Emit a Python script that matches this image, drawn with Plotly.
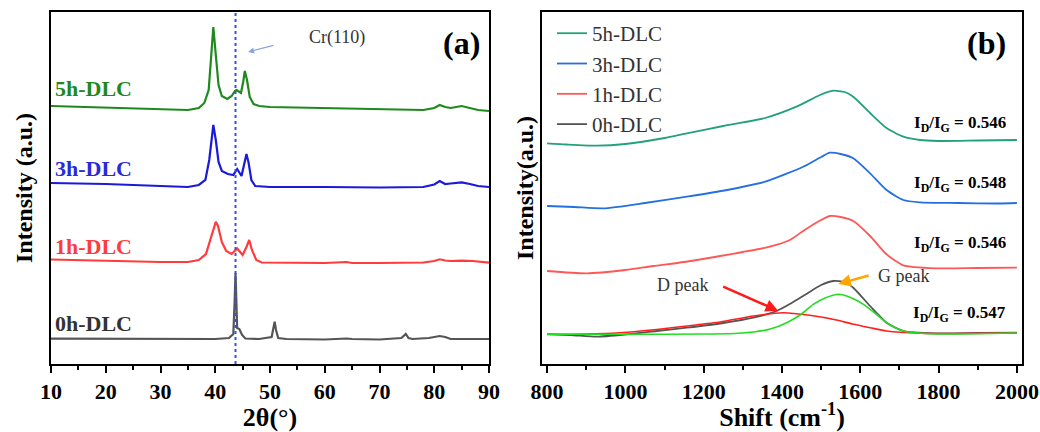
import plotly.graph_objects as go

# ---------------- Panel (a): XRD (2θ in degrees, stacked intensity in a.u.) ----------------
xrd_5h_x = [10, 20, 30, 35, 37, 38, 38.8, 39.3, 39.65, 40.1, 40.6, 41.2, 42.2, 43.0, 43.6, 43.9, 44.3, 44.7,
            45.1, 45.4, 45.8, 46.3, 47, 48, 50, 60, 70, 78, 80, 81, 82, 83, 85, 86.5, 88, 90]
xrd_5h_y = [258, 256.5, 255, 254, 256, 261, 274, 309, 337, 309, 279, 268, 265, 268, 273, 274, 272, 271,
            282, 293, 284, 267, 260, 258, 257, 256, 255, 254, 256, 259, 257, 256, 258, 256, 254, 253]

xrd_3h_x = [10, 20, 30, 35, 37, 38.2, 38.9, 39.3, 39.65, 40.1, 40.6, 41.2, 42.3, 43.3, 44.0, 44.8, 45.3,
            45.7, 46.1, 46.6, 47.3, 50, 60, 70, 78, 80, 81, 82, 83, 84, 85, 86.5, 88, 90]
xrd_3h_y = [181, 180, 178, 177, 179, 184, 204, 226, 239, 224, 202, 193, 190, 189, 195, 188, 199,
            210, 201, 184, 178, 177, 177, 176.5, 177, 179.5, 183, 180, 180.5, 181, 181.7, 180, 178, 177]

xrd_1h_x = [10, 20, 30, 35, 37, 38.3, 39.2, 39.8, 40.1, 40.5, 41.2, 42.0, 43.0, 44.0, 45.0, 45.7, 46.2,
            46.7, 47.5, 48.5, 55, 60, 64, 65, 70, 78, 80, 81, 82, 83, 85, 87, 90]
xrd_1h_y = [104.5, 103, 102, 102, 104, 110, 126, 139, 142.3, 138, 122, 113, 110, 115.5, 109, 117, 124,
            114, 104, 101.5, 101, 101, 102, 101, 101, 101.5, 103, 104.7, 103.5, 103, 103.3, 103, 101.3]

xrd_0h_x = [10, 20, 30, 40, 42.5, 43.3, 43.55, 43.7, 43.85, 44.0, 44.4, 44.9, 45.5, 48, 50.3, 50.6, 50.85,
            51.1, 51.5, 53, 60, 64, 65, 70, 74, 74.8, 75.3, 76, 79, 81, 82, 83, 90]
xrd_0h_y = [25.3, 25, 25, 25, 26, 30, 64, 91, 64, 36, 35, 29, 25.5, 25, 27, 34, 42.3,
            34, 26, 25, 24.5, 25.5, 25, 24.5, 26, 30, 26, 25, 26, 28, 27, 25, 25]

cr110_position = [43.7]

# ---------------- Panel (b): Raman (shift in cm-1, stacked intensity in a.u.) ----------------
raman_5h_x = [800, 850, 927, 1000, 1100, 1157, 1250, 1357, 1437, 1497, 1531, 1560, 1582, 1625, 1667, 1710,
              1752, 1800, 1900, 2000]
raman_5h_y = [220.7, 219.5, 218.3, 220, 226, 230.7, 238, 246, 257.3, 269, 273.3, 272, 267.3, 251, 236, 227.3,
              224, 223, 223.5, 224]

raman_3h_x = [800, 870, 944, 1050, 1157, 1260, 1357, 1454, 1500, 1522, 1550, 1582, 1625, 1667, 1710, 1752,
              1850, 1950, 2000]
raman_3h_y = [158, 157, 155.7, 161, 167.3, 174, 182.3, 197.3, 207, 211.3, 210, 205.7, 190.7, 174, 164, 161.7,
              161, 160.5, 161]

raman_1h_x = [800, 901, 1000, 1071, 1150, 1242, 1300, 1369, 1420, 1454, 1495, 1522, 1550, 1582, 1625, 1667,
              1710, 1795, 1900, 2000]
raman_1h_y = [93, 90.7, 94, 98, 102, 108, 112, 117.3, 124, 133, 143, 148, 147, 143, 128, 109.7,
              98.7, 95.7, 96, 96.3]

raman_0h_x = [800, 860, 927, 1000, 1080, 1157, 1250, 1327, 1386, 1420, 1454, 1500, 1531, 1560, 1582, 1625,
              1667, 1710, 1795, 1900, 2000]
raman_0h_y = [29.7, 29, 27.3, 29.5, 33, 36.3, 41, 46.3, 53, 60, 68, 79, 83, 82, 76.3, 58,
              41.3, 33, 30.7, 31, 31.3]

g_fit_x = [800, 1000, 1200, 1280, 1327, 1370, 1412, 1450, 1480, 1510, 1544, 1575, 1608, 1640, 1667, 1690,
           1710, 1750, 1795, 2000]
g_fit_y = [29.7, 29.7, 30, 30.5, 32, 35, 41.3, 50, 59.7, 66, 69.7, 66.5, 59.7, 50, 41.3, 36,
           33, 31, 30, 31]

d_fit_x = [800, 900, 986, 1080, 1157, 1242, 1327, 1403, 1471, 1539, 1580, 1625, 1667, 1752, 1850, 2000]
d_fit_y = [29.7, 30, 31.3, 34.5, 38, 42, 48, 51.3, 48.7, 44, 40, 36.3, 33, 30.7, 30.5, 31]

samples = ["5h-DLC", "3h-DLC", "1h-DLC", "0h-DLC"]
id_ig_ratios = ["0.546", "0.548", "0.546", "0.547"]

SERIF = "Liberation Serif"
xrd_colors = ["#1e8a1e", "#1a1ad8", "#ff3b3b", "#555555"]
xrd_label_colors = ["#1e8a1e", "#2a2ad8", "#ff3b3b", "#333333"]
raman_colors = ["#23a07c", "#2470e0", "#ff5757", "#555555"]

fig = go.Figure()

xrd_x = [xrd_5h_x, xrd_3h_x, xrd_1h_x, xrd_0h_x]
xrd_y = [xrd_5h_y, xrd_3h_y, xrd_1h_y, xrd_0h_y]
for name, xs, ys, c in zip(samples, xrd_x, xrd_y, xrd_colors):
    fig.add_trace(go.Scatter(x=xs, y=ys, mode="lines", name=name, showlegend=False,
                             line=dict(color=c, width=2.2), xaxis="x", yaxis="y"))

raman_x = [raman_5h_x, raman_3h_x, raman_1h_x, raman_0h_x]
raman_y = [raman_5h_y, raman_3h_y, raman_1h_y, raman_0h_y]
for name, xs, ys, c in zip(samples, raman_x, raman_y, raman_colors):
    fig.add_trace(go.Scatter(x=xs, y=ys, mode="lines", name=name, showlegend=True,
                             line=dict(color=c, width=1.8, shape="spline", smoothing=0.6),
                             xaxis="x2", yaxis="y2"))

fig.add_trace(go.Scatter(x=d_fit_x, y=d_fit_y, mode="lines", name="D fit", showlegend=False,
                         line=dict(color="#ff2020", width=1.6, shape="spline", smoothing=0.6),
                         xaxis="x2", yaxis="y2"))
fig.add_trace(go.Scatter(x=g_fit_x, y=g_fit_y, mode="lines", name="G fit", showlegend=False,
                         line=dict(color="#22dd22", width=1.6, shape="spline", smoothing=0.6),
                         xaxis="x2", yaxis="y2"))

# dotted Cr(110) reference line
fig.add_shape(type="line", xref="x", yref="paper", x0=cr110_position[0], x1=cr110_position[0],
              y0=0, y1=1, line=dict(color="#3355dd", width=2, dash="dot"))

annotations = []
# sample labels in panel (a)
label_y = [276, 196, 118, 41]
for name, ly, c in zip(samples, label_y, xrd_label_colors):
    annotations.append(dict(x=10.3, y=ly, xref="x", yref="y", text=name, showarrow=False,
                            xanchor="left", yanchor="middle",
                            font=dict(family=SERIF, size=22, color=c, weight="bold")))
annotations.append(dict(x=62.2, y=327, xref="x", yref="y", text="Cr(110)", showarrow=False,
                        font=dict(family=SERIF, size=18, color="#333333")))
annotations.append(dict(x=46.0, y=312, ax=50.9, ay=319, xref="x", yref="y", axref="x", ayref="y",
                        text="", showarrow=True, arrowhead=2, arrowsize=1, arrowwidth=1.2,
                        arrowcolor="#8aa6d8"))
annotations.append(dict(x=84.9, y=321, xref="x", yref="y", text="(a)", showarrow=False,
                        font=dict(family=SERIF, size=32, color="black", weight="bold")))
annotations.append(dict(x=1923, y=321, xref="x2", yref="y2", text="(b)", showarrow=False,
                        font=dict(family=SERIF, size=32, color="black", weight="bold")))

# I_D/I_G labels in panel (b)
ratio_y = [240, 180, 120, 50]
for r, ry in zip(id_ig_ratios, ratio_y):
    annotations.append(dict(x=1977, y=ry, xref="x2", yref="y2",
                            text=f"I<sub>D</sub>/I<sub>G</sub> = {r}", showarrow=False,
                            xanchor="right", yanchor="middle",
                            font=dict(family=SERIF, size=17, color="black", weight="bold")))

# D peak / G peak pointers
annotations.append(dict(x=1147, y=79, xref="x2", yref="y2", text="D peak", showarrow=False,
                        font=dict(family=SERIF, size=18, color="#333333")))
annotations.append(dict(x=1390, y=53.3, ax=1246, ay=78, xref="x2", yref="y2", axref="x2", ayref="y2",
                        text="", showarrow=True, arrowhead=2, arrowsize=1, arrowwidth=2.5,
                        arrowcolor="#ff1a1a"))
annotations.append(dict(x=1711, y=88, xref="x2", yref="y2", text="G peak", showarrow=False,
                        font=dict(family=SERIF, size=18, color="#333333")))
annotations.append(dict(x=1544, y=80, ax=1625, ay=89, xref="x2", yref="y2", axref="x2", ayref="y2",
                        text="", showarrow=True, arrowhead=2, arrowsize=1, arrowwidth=2.5,
                        arrowcolor="#ffa500"))

tickfont = dict(family=SERIF, size=22, color="black", weight="bold")
titlefont = dict(family=SERIF, size=26, color="black", weight="bold")

common_x = dict(showline=True, linecolor="black", linewidth=2, mirror=True, ticks="outside",
                ticklen=7, tickwidth=2, tickcolor="black", showgrid=False, zeroline=False,
                tickfont=tickfont, automargin=False)
common_y = dict(showline=True, linecolor="black", linewidth=2, mirror=True, ticks="",
                showticklabels=False, showgrid=False, zeroline=False, range=[0, 352], automargin=False)

fig.update_layout(
    width=1040, height=432,
    margin=dict(l=0, r=0, t=12, b=68),
    paper_bgcolor="white", plot_bgcolor="white",
    xaxis=dict(domain=[51 / 1040, 489 / 1040], range=[10, 90], tickvals=[10, 20, 30, 40, 50, 60, 70, 80, 90],
               minor=dict(dtick=5, ticks="outside", ticklen=4, tickwidth=2, tickcolor="black"),
               title=dict(text="2θ(°)", font=titlefont, standoff=0), anchor="y", **common_x),
    yaxis=dict(domain=[0, 1], anchor="x",
               title=dict(text="Intensity (a.u.)", font=dict(family=SERIF, size=24, color="black", weight="bold"),
                          standoff=10), **common_y),
    xaxis2=dict(domain=[542 / 1040, 1022 / 1040], range=[787, 2013],
                tickvals=[800, 1000, 1200, 1400, 1600, 1800, 2000],
                minor=dict(dtick=100, tick0=800, ticks="outside", ticklen=4, tickwidth=2, tickcolor="black"),
                title=dict(text="Shift (cm<sup>-1</sup>)", font=titlefont, standoff=0), anchor="y2", **common_x),
    yaxis2=dict(domain=[0, 1], anchor="x2",
                title=dict(text="Intensity(a.u.)", font=dict(family=SERIF, size=24, color="black", weight="bold"),
                           standoff=0), **common_y),
    legend=dict(x=552 / 1040, y=0.997, xanchor="left", yanchor="top", bgcolor="rgba(0,0,0,0)",
                font=dict(family=SERIF, size=21, color="#333333"), tracegroupgap=0, itemwidth=30),
    annotations=annotations,
)

fig.write_html("out.html", config={"displayModeBar": False},
               post_script="document.body.style.margin='0';document.body.style.overflow='hidden';")
